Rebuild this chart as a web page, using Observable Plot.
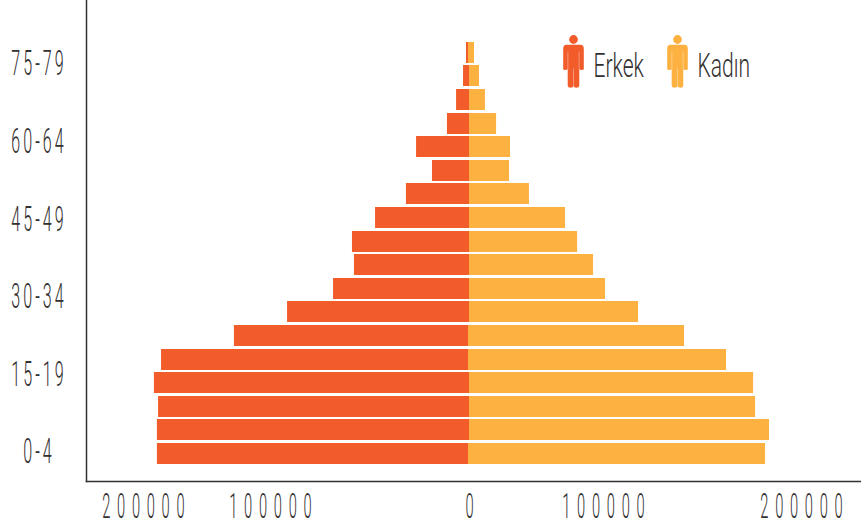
<!DOCTYPE html>
<html lang="tr">
<head>
<meta charset="utf-8">
<script src="https://cdn.jsdelivr.net/npm/d3@7"></script>
<script src="https://cdn.jsdelivr.net/npm/@observablehq/plot@0.6"></script>
<style>
  html, body { margin: 0; padding: 0; background: #fff; }
  svg { display: block; }
</style>
</head>
<body>
<div id="chart"></div>
<script>
// Rows, bottom to top (0-4 upward, 5-year bands, 18 rows)
const maleValues = [188000,188000,187300,189800,185500,141600,109600,81900,69300,70500,56600,38000,22300,31900,13300,7800,3600,1800];
const femaleValues = [178300,180700,172300,171100,154800,129500,101800,81900,74700,65100,57800,36100,24100,24700,16300,9600,6000,3000];
// The seam between the two halves sits a hair left of zero on a few rows
const seamValues = [-600,0,0,0,-600,-600,0,0,0,0,0,0,0,0,0,0,0,-600];

// Tick labels sit where the reference shows them, not on their nominal values
const xTickLabels = ["200000","100000","0","100000","200000"];
const xTickPositions = [-196400,-119900,0,80700,200000];
const yTickLabels = ["0-4","15-19","30-34","45-49","60-64","75-79"];
const yTickPositions = [0.106,3.37,6.68,9.94,13.25,16.55];

const legendLabels = ["Erkek","Kadın"];
const maleColor = "#F25C2B", femaleColor = "#FDB140", inkColor = "#333031";

const rows = maleValues.map((m,i)=>({i, male:m, female:femaleValues[i], seam:seamValues[i]}));
const half = 0.445;

// Person pictogram, drawn through Plot's custom symbol interface
const personBody = { draw(c){
  c.moveTo(4.4,-22); c.arc(0,-22,4.4,0,2*Math.PI); c.closePath();
  c.moveTo(-7,-16.8);
  c.lineTo(7,-16.8);
  c.quadraticCurveTo(10.3,-16.8,10.3,-13);
  c.lineTo(10.3,7.2);
  c.quadraticCurveTo(10.3,8.6,8.4,8.6);
  c.quadraticCurveTo(5.8,8.6,5.8,7.2);
  c.lineTo(5.8,24.2);
  c.quadraticCurveTo(5.6,26.3,3,26.3);
  c.quadraticCurveTo(0.4,26.3,0,24.6);
  c.quadraticCurveTo(-0.4,26.3,-3,26.3);
  c.quadraticCurveTo(-5.6,26.3,-5.8,24.2);
  c.lineTo(-5.8,7.2);
  c.quadraticCurveTo(-5.8,8.6,-8.4,8.6);
  c.quadraticCurveTo(-10.3,8.6,-10.3,7.2);
  c.lineTo(-10.3,-13);
  c.quadraticCurveTo(-10.3,-16.8,-7,-16.8);
  c.closePath();
}};
const personSeams = { draw(c){
  c.moveTo(-5.6,-10); c.lineTo(-5.6,8);
  c.moveTo(5.6,-10); c.lineTo(5.6,8);
  c.moveTo(0,7); c.lineTo(0,25);
}};

const legendItem = (label, color, dx) => [
  Plot.dot([label], {frameAnchor:"top-left", dx, dy:61, symbol:personBody, fill:color, stroke:"none"}),
  Plot.dot([label], {frameAnchor:"top-left", dx, dy:61, symbol:personSeams, fill:"none", stroke:"#fff", strokeOpacity:0.4, strokeWidth:0.9}),
  Plot.text([label], {frameAnchor:"top-left", dx:dx+20, dy:52, text:d=>d, textAnchor:"start", fill:inkColor, fontSize:34, fontWeight:300})
];

const xLabel = new Map(xTickPositions.map((p,i)=>[p,xTickLabels[i]]));
const yLabel = new Map(yTickPositions.map((p,i)=>[p,yTickLabels[i]]));

const chart = Plot.plot({
  width:861, height:528,
  marginLeft:86, marginRight:0, marginTop:0, marginBottom:47,
  style:{fontFamily:"Roboto, sans-serif", background:"#fff"},
  x:{domain:[-230700,236100]},
  y:{domain:[-1.166,19.22], round:true},
  marks:[
    Plot.rect(rows,{x1:d=>-d.male, x2:0, y1:d=>d.i-half, y2:d=>d.i+half, fill:maleColor}),
    Plot.rect(rows,{x1:d=>d.seam, x2:"female", y1:d=>d.i-half, y2:d=>d.i+half, fill:femaleColor}),
    Plot.frame({anchor:"left", stroke:inkColor, strokeWidth:1.5}),
    Plot.frame({anchor:"bottom", stroke:inkColor, strokeWidth:1.5}),
    Plot.axisX({ticks:xTickPositions, tickFormat:d=>xLabel.get(d), tickSize:0, tickPadding:12, label:null, fontSize:35, fontWeight:300, fill:inkColor}),
    Plot.axisY({ticks:yTickPositions, tickFormat:d=>yLabel.get(d), tickSize:0, tickPadding:48, textAnchor:"middle", label:null, fontSize:35, fontWeight:300, fill:inkColor, dy:0.5}),
    ...legendItem(legendLabels[0], maleColor, 487),
    ...legendItem(legendLabels[1], femaleColor, 591)
  ]
});

// The reference uses a very condensed face: narrow the installed one.
// Letter spacing adds a trailing gap, so the label is nudged back to centre.
const squeeze = (sel, sx, spacing, nudge) => {
  chart.querySelectorAll(sel).forEach(t => {
    if (spacing) t.style.letterSpacing = spacing + "px";
    const tr = t.getAttribute("transform") || "";
    t.setAttribute("transform", tr + ` translate(${nudge || 0},0) scale(${sx},1)`);
  });
};
document.getElementById("chart").append(chart);
squeeze('[aria-label="x-axis tick label"] text', 0.42, 16, 3.3);
squeeze('[aria-label="y-axis tick label"] text', 0.46, 6.5, 0.5);
squeeze('g[aria-label="text"] text', 0.62);
</script>
</body>
</html>
